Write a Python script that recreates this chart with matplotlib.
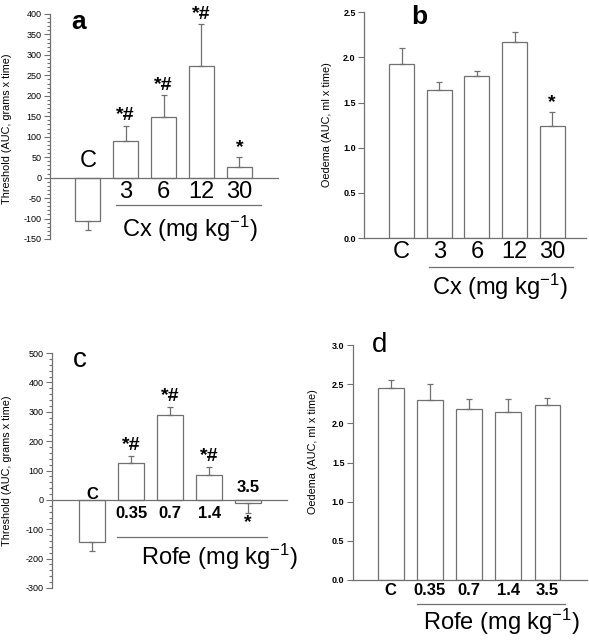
import numpy as np
import matplotlib
matplotlib.use("Agg")
import matplotlib.pyplot as plt
from matplotlib.ticker import MultipleLocator

plt.rcParams['font.family'] = ['Liberation Sans', 'DejaVu Sans']
plt.rcParams['mathtext.default'] = 'regular'
plt.rcParams['axes.unicode_minus'] = False

# data
cx_labels = ['C', '3', '6', '12', '30']
cx_thresh = [-105, 90, 147, 272, 25]
cx_thresh_err = [23, 37, 55, 103, 25]
cx_thresh_sig = ['', '*#', '*#', '*#', '*']

cx_oedema = [1.93, 1.64, 1.79, 2.17, 1.24]
cx_oedema_err = [0.17, 0.09, 0.06, 0.11, 0.16]
cx_oedema_sig = ['', '', '', '', '*']

rofe_labels = ['C', '0.35', '0.7', '1.4', '3.5']
rofe_thresh = [-145, 125, 290, 85, -10]
rofe_thresh_err = [30, 25, 28, 28, 33]
rofe_thresh_sig = ['', '*#', '*#', '*#', '*']

rofe_oedema = [2.45, 2.30, 2.19, 2.15, 2.23]
rofe_oedema_err = [0.10, 0.20, 0.12, 0.16, 0.10]

grey = '#707070'
x = np.arange(5)

fig = plt.figure(figsize=(5.89, 6.40), dpi=100)
ax_a = fig.add_axes([0.0849, 0.6266, 0.387, 0.3516])
ax_b = fig.add_axes([0.618, 0.628, 0.377, 0.353])
ax_c = fig.add_axes([0.0883, 0.0813, 0.399, 0.367])
ax_d = fig.add_axes([0.599, 0.0938, 0.397, 0.367])


def bars(ax, vals, errs):
    ax.bar(x, vals, width=0.66, color='white', edgecolor=grey, linewidth=0.9, zorder=2)
    lo = [e if v < 0 else 0 for v, e in zip(vals, errs)]
    hi = [0 if v < 0 else e for v, e in zip(vals, errs)]
    ax.errorbar(x, vals, yerr=[lo, hi], fmt='none', ecolor=grey, elinewidth=0.9,
                capsize=2.2, capthick=0.9, zorder=3)
    for s in ['top', 'right']:
        ax.spines[s].set_visible(False)
    for s in ['left', 'bottom']:
        ax.spines[s].set_color(grey)
        ax.spines[s].set_linewidth(0.9)
    ax.spines['bottom'].set_position(('data', 0))
    ax.set_xticks([])
    ax.tick_params(axis='y', which='both', color=grey, width=0.8, labelsize=6.5, pad=2)
    ax.tick_params(axis='y', which='major', length=4)
    ax.tick_params(axis='y', which='minor', length=2)


# panel a
bars(ax_a, cx_thresh, cx_thresh_err)
ax_a.set_xlim(-1, 5.02)
ax_a.set_ylim(-150, 400)
ax_a.yaxis.set_major_locator(MultipleLocator(50))
ax_a.yaxis.set_minor_locator(MultipleLocator(10))
ax_a.set_ylabel('Threshold (AUC, grams x time)', fontsize=7.8)
ax_a.yaxis.set_label_coords(-0.167, 0.49)
ax_a.text(0.127, 0.964, 'a', transform=ax_a.transAxes, fontsize=19, fontweight='bold',
          ha='center', va='center')
ax_a.text(0, 41, cx_labels[0], fontsize=17, ha='center', va='center')
for i in range(1, 5):
    ax_a.text(x[i], -34, cx_labels[i], fontsize=17, ha='center', va='center')
for i, s in enumerate(cx_thresh_sig):
    if s:
        top = cx_thresh[i] + cx_thresh_err[i]
        ax_a.text(x[i], top + 3, s, fontsize=14, fontweight='bold', ha='center', va='bottom')
ax_a.plot([0.75, 4.57], [-68, -68], color=grey, lw=0.9, clip_on=False)
ax_a.text(2.7, -125, r'Cx (mg kg$^{-1}$)', fontsize=17, ha='center', va='center')

# panel b
bars(ax_b, cx_oedema, cx_oedema_err)
ax_b.set_xlim(-1, 4.9)
ax_b.set_ylim(0, 2.5)
ax_b.yaxis.set_major_locator(MultipleLocator(0.5))
ax_b.yaxis.set_major_formatter(matplotlib.ticker.FormatStrFormatter('%.1f'))
for t in ax_b.get_yticklabels():
    t.set_fontweight('bold')
ax_b.set_ylabel('Oedema (AUC, ml x time)', fontsize=7.8)
ax_b.yaxis.set_label_coords(-0.144, 0.50)
ax_b.text(0.248, 0.978, 'b', transform=ax_b.transAxes, fontsize=19, fontweight='bold',
          ha='center', va='center')
for i in range(5):
    ax_b.text(x[i], -0.155, cx_labels[i], fontsize=17, ha='center', va='center')
for i, s in enumerate(cx_oedema_sig):
    if s:
        top = cx_oedema[i] + cx_oedema_err[i]
        ax_b.text(x[i], top + 0.01, s, fontsize=14, fontweight='bold', ha='center', va='bottom')
ax_b.plot([0.72, 4.54], [-0.32, -0.32], color=grey, lw=0.9, clip_on=False)
ax_b.text(2.62, -0.54, r'Cx (mg kg$^{-1}$)', fontsize=17, ha='center', va='center')

# panel c
bars(ax_c, rofe_thresh, rofe_thresh_err)
ax_c.set_xlim(-1.03, 5.0)
ax_c.set_ylim(-300, 500)
ax_c.yaxis.set_major_locator(MultipleLocator(100))
ax_c.yaxis.set_minor_locator(MultipleLocator(20))
ax_c.set_ylabel('Threshold (AUC, grams x time)', fontsize=7.8)
ax_c.yaxis.set_label_coords(-0.17, 0.50)
ax_c.text(0.119, 0.970, 'c', transform=ax_c.transAxes, fontsize=20,
          ha='center', va='center')
ax_c.text(0, 17, rofe_labels[0], fontsize=12, fontweight='bold', ha='center', va='center')
for i in range(1, 4):
    ax_c.text(x[i], -48, rofe_labels[i], fontsize=12, fontweight='bold', ha='center', va='center')
ax_c.text(4, 41, rofe_labels[4], fontsize=12, fontweight='bold', ha='center', va='center')
for i, s in enumerate(rofe_thresh_sig):
    if not s:
        continue
    if rofe_thresh[i] < 0:
        bot = rofe_thresh[i] - rofe_thresh_err[i]
        ax_c.text(x[i], bot - 4, s, fontsize=14, fontweight='bold', ha='center', va='top')
    else:
        top = rofe_thresh[i] + rofe_thresh_err[i]
        ax_c.text(x[i], top + 6, s, fontsize=14, fontweight='bold', ha='center', va='bottom')
ax_c.plot([0.64, 4.49], [-126, -126], color=grey, lw=0.9, clip_on=False)
ax_c.text(3.26, -194, r'Rofe (mg kg$^{-1}$)', fontsize=17, ha='center', va='center')

# panel d
bars(ax_d, rofe_oedema, rofe_oedema_err)
ax_d.set_xlim(-0.97, 5.0)
ax_d.set_ylim(0, 3.0)
ax_d.yaxis.set_major_locator(MultipleLocator(0.5))
ax_d.yaxis.set_major_formatter(matplotlib.ticker.FormatStrFormatter('%.1f'))
for t in ax_d.get_yticklabels():
    t.set_fontweight('bold')
ax_d.set_ylabel('Oedema (AUC, ml x time)', fontsize=7.8)
ax_d.yaxis.set_label_coords(-0.15, 0.545)
ax_d.text(0.115, 1.0, 'd', transform=ax_d.transAxes, fontsize=20,
          ha='center', va='center')
for i in range(5):
    ax_d.text(x[i], -0.14, rofe_labels[i], fontsize=12, fontweight='bold', ha='center', va='center')
ax_d.plot([0.66, 4.45], [-0.306, -0.306], color=grey, lw=0.9, clip_on=False)
ax_d.text(2.83, -0.536, r'Rofe (mg kg$^{-1}$)', fontsize=17, ha='center', va='center')

fig.savefig('out.png', dpi=100)
